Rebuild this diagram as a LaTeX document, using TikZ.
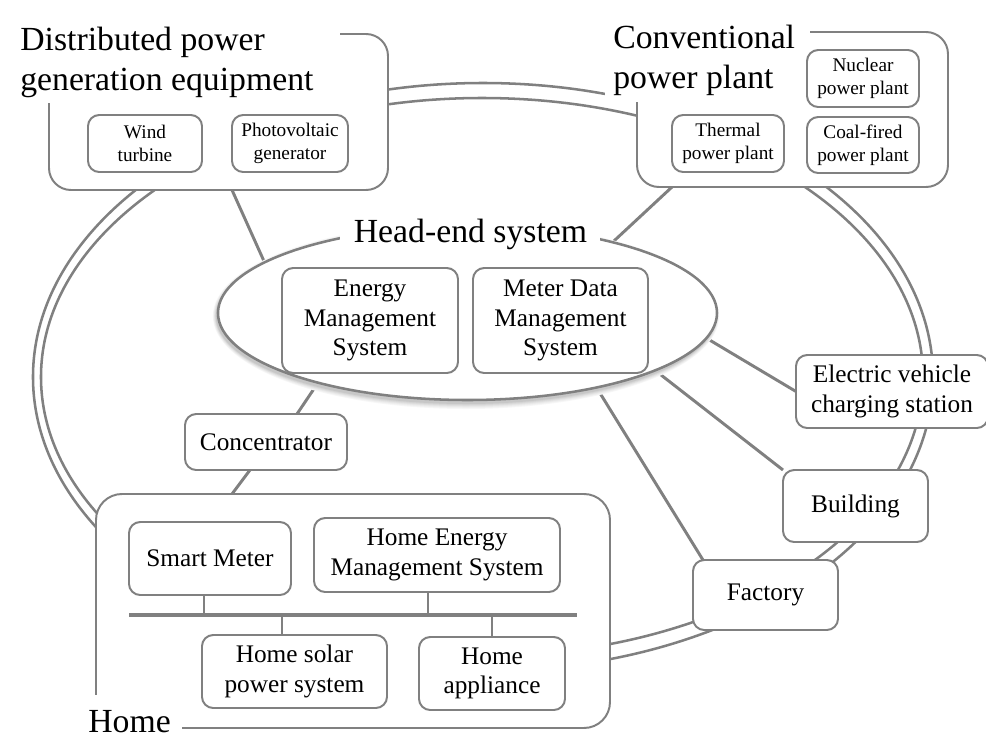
\documentclass[tikz,border=0pt]{standalone}
\usepackage{fontspec}
\setmainfont{Liberation Serif}
\usetikzlibrary{shapes.geometric}
\definecolor{edge}{RGB}{128,128,128}
\newcommand{\txtbig}{\fontsize{24pt}{28.4pt}\selectfont}
\newcommand{\txtmid}{\fontsize{18pt}{21pt}\selectfont}
\newcommand{\txtsmall}{\fontsize{13.7pt}{16.2pt}\selectfont}
\pgfdeclarelayer{bg}
\pgfdeclarelayer{shade}
\pgfsetlayers{bg,shade,main}
\begin{document}
\begin{tikzpicture}[x=0.25mm, y=-0.25mm,
  box/.style={draw=edge, line width=1.4pt, fill=white, rounded corners=2.8mm,
    inner sep=0pt, outer sep=0pt, align=center, font=\txtmid},
  smallbox/.style={box, font=\txtsmall},
  groupbox/.style={box, rounded corners=5.5mm},
  pad/.style={fill=white, inner sep=0pt, outer sep=0pt},
  bigtext/.style={inner sep=0pt, align=left, font=\txtbig},
  ring/.style={draw=edge, line width=1.8pt},
  link/.style={draw=edge, line width=2.1pt},
  bus/.style={draw=edge, line width=2.5pt},
  stub/.style={draw=edge, line width=1.1pt}]
\useasboundingbox (0,0) rectangle (986,741);

% distributed generation group
\node[groupbox, minimum width=84.75mm, minimum height=39mm] (dist) at (218.5,112) {};
\node[pad, minimum width=83mm, minimum height=23.25mm, anchor=north west] (distlab) at (8,10) {};
\node[bigtext, anchor=north west] (disttxt) at (20,27) {Distributed power\\generation equipment};
\node[smallbox, minimum width=28.5mm, minimum height=14.25mm] (wind) at (145,143.5) {Wind\\turbine};
\node[smallbox, minimum width=29mm, minimum height=14.25mm] (pv) at (290,143.5) {Photovoltaic\\generator};

% conventional plants group
\node[groupbox, minimum width=77.75mm, minimum height=38.75mm] (conv) at (792.5,109.5) {};
\node[pad, minimum width=51.25mm, minimum height=23mm, anchor=north west] (convlab) at (605,10) {};
\node[bigtext, anchor=north west] (convtxt) at (613,25) {Conventional\\power plant};
\node[smallbox, minimum width=28mm, minimum height=14.25mm] (nuc) at (863,78.5) {Nuclear\\power plant};
\node[smallbox, minimum width=28mm, minimum height=14.25mm] (therm) at (728,143.5) {Thermal\\power plant};
\node[smallbox, minimum width=28mm, minimum height=14mm] (coal) at (863,145) {Coal-fired\\power plant};

% head-end system
\node[ellipse, draw=edge, line width=1.8pt, fill=white, inner sep=0pt, outer sep=0pt,
  minimum width=124.75mm, minimum height=43.5mm] (he) at (467.5,313) {};
\node[pad, minimum width=65mm, minimum height=12.75mm] (helab) at (470,229.5) {};
\node[inner sep=0pt, font=\txtbig, anchor=base] (hetxt) at (470.5,242.5) {Head-end system};
\node[box, minimum width=44mm, minimum height=26.25mm] (ems) at (370,320.5) {Energy\\Management\\System};
\node[box, minimum width=43.75mm, minimum height=26.25mm] (mdms) at (560.5,320.5) {Meter Data\\Management\\System};

% field side
\node[box, minimum width=40.5mm, minimum height=14mm] (conc) at (266,442) {Concentrator};
\node[box, minimum width=48mm, minimum height=18.25mm] (ev) at (892,391.5) {Electric vehicle\\charging station};
\node[box, minimum width=36.25mm, minimum height=18mm] (bld) at (855.5,506) {Building};
\node[box, minimum width=36.25mm, minimum height=17.5mm] (fac) at (765.5,595) {Factory};

% home
\node[box, rounded corners=6.5mm, minimum width=128.5mm, minimum height=58.5mm] (home) at (353,611) {};
\node[pad, minimum width=26.25mm, minimum height=12.5mm, anchor=north west] (homelab) at (77,695) {};
\node[inner sep=0pt, font=\txtbig, anchor=base west] (hometxt) at (88,732) {Home};
\node[box, minimum width=40.5mm, minimum height=18.25mm] (sm) at (210,558.5) {Smart Meter};
\node[box, minimum width=61.5mm, minimum height=18.5mm] (hems) at (437,555) {Home Energy\\Management System};
\node[box, minimum width=46.25mm, minimum height=18.25mm] (solar) at (294.5,671.5) {Home solar\\power system};
\node[box, minimum width=36.5mm, minimum height=18.25mm] (app) at (492,673.5) {Home\\appliance};

% in-home bus
\coordinate (busL) at (129,615);
\coordinate (busR) at (577,615);
\coordinate (tapSM) at (204,615);
\coordinate (tapHEMS) at (428,615);
\coordinate (tapSolar) at (282,615);
\coordinate (tapApp) at (492,615);
\draw[bus] (busL) -- (busR);
\draw[stub] (tapSM) -- (tapSM |- sm.south);
\draw[stub] (tapHEMS) -- (tapHEMS |- hems.south);
\draw[stub] (tapSolar) -- (tapSolar |- solar.north);
\draw[stub] (tapApp) -- (tapApp |- app.north);

% soft shadow under the head-end ellipse
\begin{pgfonlayer}{shade}
\foreach \rx/\ry/\c in {63.275/23.25/3, 63.125/23/6, 62.975/22.75/9,
                        62.825/22.5/13, 62.675/22.25/17, 62.525/22/22}
  \fill[black!\c] (466,316) ellipse [x radius=\rx mm, y radius=\ry mm];
\end{pgfonlayer}

% power ring and data links
\begin{pgfonlayer}{bg}
\draw[ring] (483,377) ellipse [x radius=112.5mm, y radius=73.5mm];
\draw[ring] (482,377) ellipse [x radius=110.25mm, y radius=69.75mm];
\draw[link] ([xshift=3.375mm]dist.south) -- (he.166);
\draw[link] ([xshift=-30.125mm]conv.south) -- (he.26.6);
\draw[link] (he.205.4) -- ([xshift=7.75mm]conc.north);
\draw[link] ([xshift=-4mm]conc.south) -- ([xshift=-30.25mm]home.north);
\draw[link] (he.-6.6) -- (ev.west);
\draw[link] (he.-17.3) -- (bld.north west);
\draw[link] (he.-30.7) -- ([xshift=2.5mm]fac.north west);
\end{pgfonlayer}
\end{tikzpicture}
\end{document}
